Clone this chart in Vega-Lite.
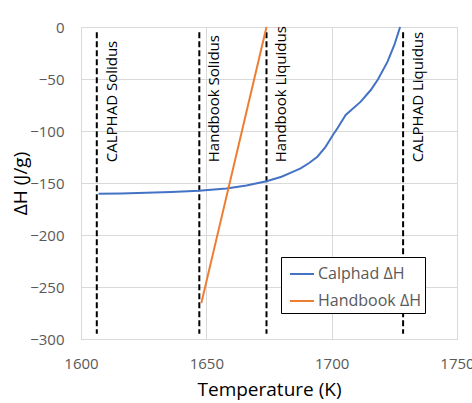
{
  "$schema": "https://vega.github.io/schema/vega-lite/v6.json",
  "width": 376,
  "height": 312,
  "autosize": {"type": "none"},
  "padding": {"left": 81, "top": 27, "right": 15, "bottom": 64},
  "background": "white",
  "config": {
    "font": "Open Sans",
    "view": {"stroke": "#d9d9d9"},
    "axis": {
      "grid": true,
      "gridColor": "#d9d9d9",
      "domainColor": "#d9d9d9",
      "ticks": false,
      "tickSize": 0,
      "labelFontSize": 15,
      "labelColor": "#595959",
      "labelFlush": false,
      "labelOverlap": false,
      "titleFontSize": 19,
      "titleFontWeight": "normal",
      "titleColor": "#000000"
    },
    "legend": {
      "orient": "none",
      "legendX": 200,
      "legendY": 230,
      "strokeColor": "#000000",
      "fillColor": "white",
      "padding": 4,
      "symbolType": "stroke",
      "symbolSize": 576,
      "symbolStrokeWidth": 2,
      "symbolOffset": 4,
      "labelFontSize": 16,
      "labelColor": "#595959",
      "labelOffset": 3,
      "rowPadding": 6
    }
  },
  "datasets": {
    "curves": [
      {"T": 1607, "dH": -160.3, "series": "Calphad ΔH"},
      {"T": 1616, "dH": -160.0, "series": "Calphad ΔH"},
      {"T": 1626, "dH": -159.4, "series": "Calphad ΔH"},
      {"T": 1636, "dH": -158.6, "series": "Calphad ΔH"},
      {"T": 1647, "dH": -157.4, "series": "Calphad ΔH"},
      {"T": 1658, "dH": -155.3, "series": "Calphad ΔH"},
      {"T": 1666, "dH": -152.5, "series": "Calphad ΔH"},
      {"T": 1674, "dH": -148.3, "series": "Calphad ΔH"},
      {"T": 1680, "dH": -144.0, "series": "Calphad ΔH"},
      {"T": 1684, "dH": -139.8, "series": "Calphad ΔH"},
      {"T": 1687.6, "dH": -135.9, "series": "Calphad ΔH"},
      {"T": 1691, "dH": -130.8, "series": "Calphad ΔH"},
      {"T": 1694.3, "dH": -124.7, "series": "Calphad ΔH"},
      {"T": 1697.5, "dH": -115.5, "series": "Calphad ΔH"},
      {"T": 1700.5, "dH": -103.8, "series": "Calphad ΔH"},
      {"T": 1702.3, "dH": -97.4, "series": "Calphad ΔH"},
      {"T": 1705.6, "dH": -84.6, "series": "Calphad ΔH"},
      {"T": 1707.6, "dH": -80.4, "series": "Calphad ΔH"},
      {"T": 1711.6, "dH": -71.8, "series": "Calphad ΔH"},
      {"T": 1715.6, "dH": -60.6, "series": "Calphad ΔH"},
      {"T": 1718.5, "dH": -50.3, "series": "Calphad ΔH"},
      {"T": 1722.3, "dH": -33.3, "series": "Calphad ΔH"},
      {"T": 1725, "dH": -17.3, "series": "Calphad ΔH"},
      {"T": 1727.3, "dH": 0, "series": "Calphad ΔH"},
      {"T": 1648, "dH": -265.5, "series": "Handbook ΔH"},
      {"T": 1674, "dH": 0, "series": "Handbook ΔH"}
    ],
    "markers": [
      {"T": 1606.3, "label": "CALPHAD Solidus"},
      {"T": 1647.2, "label": "Handbook Solidus"},
      {"T": 1674.0, "label": "Handbook Liquidus"},
      {"T": 1728.5, "label": "CALPHAD Liquidus"}
    ]
  },
  "layer": [
    {
      "data": {"name": "markers"},
      "mark": {"type": "rule", "color": "#000000", "strokeWidth": 2, "strokeDash": [6, 3]},
      "encoding": {
        "x": {"field": "T", "type": "quantitative"},
        "y": {"datum": -5},
        "y2": {"datum": -295}
      }
    },
    {
      "data": {"name": "markers"},
      "mark": {"type": "text", "angle": 270, "align": "left", "baseline": "top", "dy": 8, "fontSize": 15, "color": "#000000"},
      "encoding": {
        "x": {"field": "T", "type": "quantitative"},
        "y": {"datum": -130},
        "text": {"field": "label"}
      }
    },
    {
      "data": {"name": "curves"},
      "mark": {"type": "line", "strokeWidth": 2},
      "encoding": {
        "x": {
          "field": "T", "type": "quantitative",
          "scale": {"domain": [1600, 1750], "nice": false, "zero": false},
          "axis": {"values": [1600, 1650, 1700, 1750], "format": "d", "title": "Temperature (K)", "labelPadding": 17, "titleY": 56, "titleBaseline": "alphabetic"}
        },
        "y": {
          "field": "dH", "type": "quantitative",
          "scale": {"domain": [-300, 0], "nice": false},
          "axis": {"values": [-300, -250, -200, -150, -100, -50, 0], "title": "ΔH (J/g)", "labelPadding": 17, "titleX": -55, "titleY": 156, "titleAngle": 270, "titleAlign": "center", "titleBaseline": "alphabetic"}
        },
        "color": {
          "field": "series", "type": "nominal",
          "scale": {"domain": ["Calphad ΔH", "Handbook ΔH"], "range": ["#4472C4", "#ED7D31"]},
          "legend": {"title": null}
        }
      }
    }
  ]
}
